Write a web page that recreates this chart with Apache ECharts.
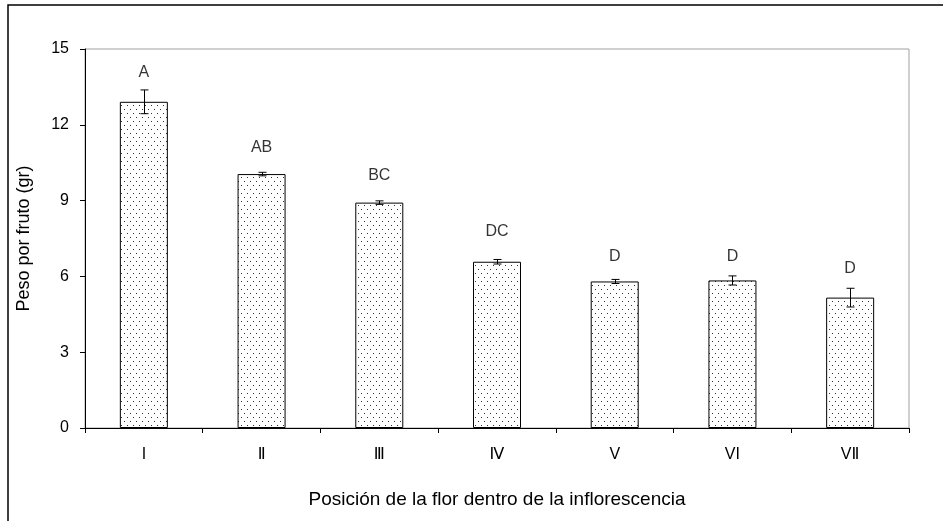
<!DOCTYPE html>
<html>
<head>
<meta charset="utf-8">
<script src="https://cdn.jsdelivr.net/npm/echarts@6/dist/echarts.min.js"></script>
<style>html,body{margin:0;padding:0;background:#fff}#c{width:943px;height:521px}</style>
</head>
<body>
<div id="c"></div>
<script>
var categories = ['I', 'Ⅱ', 'Ⅲ', 'Ⅳ', 'V', 'VI', 'VⅡ'];
var values = [12.91, 10.05, 8.92, 6.58, 5.80, 5.84, 5.16];
var errors = [0.47, 0.07, 0.07, 0.09, 0.08, 0.18, 0.37];
var letters = ['A', 'AB', 'BC', 'DC', 'D', 'D', 'D'];
var letterY = [14.06, 11.08, 10.0, 7.77, 6.78, 6.78, 6.32];
var yTicks = [0, 3, 6, 9, 12, 15];

var FONT = '"Liberation Sans", Arial, "DejaVu Sans", sans-serif';

// dotted pattern
var pc = document.createElement('canvas');
pc.width = 6; pc.height = 8;
var pctx = pc.getContext('2d');
pctx.fillStyle = '#ffffff';
pctx.fillRect(0, 0, 6, 8);
pctx.fillStyle = '#333333';
pctx.fillRect(1, 1, 1, 1);
pctx.fillRect(4, 5, 1, 1);

var chart = echarts.init(document.getElementById('c'), null, {renderer: 'canvas'});
chart.setOption({
  backgroundColor: '#ffffff',
  animation: false,
  graphic: [{
    type: 'rect', silent: true,
    shape: {x: 8, y: 5, width: 1200, height: 1200},
    style: {fill: 'none', stroke: '#000', lineWidth: 1.5}
  }],
  grid: {left: 85, top: 49, right: 34, bottom: 93, show: true, borderColor: '#a0a0a0', borderWidth: 1, backgroundColor: 'transparent'},
  xAxis: {
    type: 'category',
    data: categories,
    boundaryGap: true,
    name: 'Posición de la flor dentro de la inflorescencia',
    nameLocation: 'middle',
    nameGap: 62,
    nameTextStyle: {fontFamily: FONT, fontSize: 19, color: '#000'},
    axisLine: {lineStyle: {color: '#000', width: 1}},
    axisTick: {show: true, alignWithLabel: false, length: 5, lineStyle: {color: '#000'}},
    axisLabel: {fontFamily: FONT, fontSize: 16, color: '#000', margin: 19},
    splitLine: {show: false}
  },
  yAxis: {
    type: 'value',
    min: yTicks[0], max: yTicks[yTicks.length - 1], interval: 3,
    name: 'Peso por fruto (gr)',
    nameLocation: 'middle',
    nameGap: 52,
    nameTextStyle: {fontFamily: FONT, fontSize: 18, color: '#000'},
    axisLine: {show: true, lineStyle: {color: '#000', width: 1}},
    axisTick: {show: true, length: 5, lineStyle: {color: '#000'}},
    axisLabel: {fontFamily: FONT, fontSize: 16, color: '#000', margin: 16},
    splitLine: {show: false}
  },
  series: [
    {
      type: 'bar',
      data: values,
      barWidth: 48,
      itemStyle: {color: {image: pc, repeat: 'repeat'}, borderColor: '#000', borderWidth: 1},
      z: 2
    },
    {
      type: 'custom',
      data: values.map(function (v, i) { return [i, v - errors[i], v + errors[i]]; }),
      renderItem: function (params, api) {
        var lo = api.coord([api.value(0), api.value(1)]);
        var hi = api.coord([api.value(0), api.value(2)]);
        var x = Math.round(lo[0]) + 0.5;
        var hw = 4;
        return {
          type: 'group',
          children: [
            {type: 'line', shape: {x1: x, y1: lo[1], x2: x, y2: hi[1]}, style: {stroke: '#000', lineWidth: 1}},
            {type: 'line', shape: {x1: x - hw, y1: lo[1], x2: x + hw, y2: lo[1]}, style: {stroke: '#000', lineWidth: 1}},
            {type: 'line', shape: {x1: x - hw, y1: hi[1], x2: x + hw, y2: hi[1]}, style: {stroke: '#000', lineWidth: 1}}
          ]
        };
      },
      z: 3
    },
    {
      type: 'scatter',
      data: letterY.map(function (y, i) { return [i, y]; }),
      symbolSize: 0,
      label: {
        show: true, position: 'inside',
        formatter: function (p) { return letters[p.dataIndex]; },
        fontFamily: FONT, fontSize: 16, color: '#000'
      },
      z: 4
    }
  ]
});
</script>
</body>
</html>
